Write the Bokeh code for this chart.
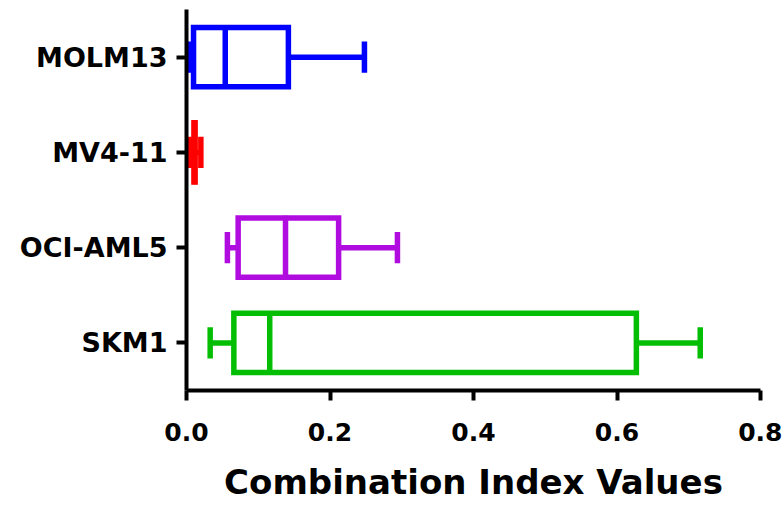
from bokeh.plotting import figure
from bokeh.models import FactorRange, FixedTicker, ColumnDataSource, PrintfTickFormatter
from bokeh.transform import dodge
from bokeh.embed import file_html
from bokeh.resources import INLINE

# ---- data ----
cells = ["MOLM13", "MV4-11", "OCI-AML5", "SKM1"]
mins = [0.0035, 0.004, 0.057, 0.033]
q1 = [0.0098, 0.0105, 0.072, 0.066]
medians = [0.054, 0.011, 0.138, 0.116]
q3 = [0.142, 0.012, 0.212, 0.627]
maxs = [0.248, 0.020, 0.294, 0.716]
colors = ["#0000FF", "#FF0000", "#B00CE0", "#04BE04"]
x_ticks = [0.0, 0.2, 0.4, 0.6, 0.8]
x_title = "Combination Index Values"

src = ColumnDataSource(dict(cell=cells, mn=mins, q1=q1, med=medians, q3=q3, mx=maxs, color=colors))

FONT = "DejaVu Sans"

p = figure(width=782, height=504, output_backend="svg", toolbar_location=None,
           y_range=FactorRange(factors=list(reversed(cells))), x_range=(0, 0.8),
           min_border_left=186, min_border_right=22, min_border_top=9, min_border_bottom=112)
p.outline_line_color = None
p.grid.visible = False
p.background_fill_color = "white"
p.border_fill_color = "white"

BOX_H = 0.62
CAP_H = 0.33
LW = 5.5

# whiskers
p.segment(x0="mn", x1="q1", y0="cell", y1="cell", source=src, line_color="color", line_width=LW)
p.segment(x0="q3", x1="mx", y0="cell", y1="cell", source=src, line_color="color", line_width=LW)
# caps
p.segment(x0="mn", x1="mn", y0=dodge("cell", -CAP_H / 2, range=p.y_range),
          y1=dodge("cell", CAP_H / 2, range=p.y_range), source=src, line_color="color", line_width=LW)
p.segment(x0="mx", x1="mx", y0=dodge("cell", -CAP_H / 2, range=p.y_range),
          y1=dodge("cell", CAP_H / 2, range=p.y_range), source=src, line_color="color", line_width=LW)
# boxes
p.hbar(y="cell", left="q1", right="q3", height=BOX_H, source=src, fill_color="white",
       line_color="color", line_width=LW, line_join="miter")
# medians
p.segment(x0="med", x1="med", y0=dodge("cell", -BOX_H / 2 - 0.025, range=p.y_range),
          y1=dodge("cell", BOX_H / 2 + 0.025, range=p.y_range), source=src, line_color="color", line_width=LW)

# axes
for ax in (p.xaxis[0], p.yaxis[0]):
    ax.axis_line_width = 4
    ax.axis_line_color = "black"
    ax.major_tick_line_width = 4
    ax.major_tick_line_color = "black"
    ax.major_tick_in = 0
    ax.major_tick_out = 10
    ax.minor_tick_line_color = None
    ax.major_label_text_font = FONT
    ax.major_label_text_font_style = "bold"
    ax.major_label_text_color = "black"

p.xaxis.ticker = FixedTicker(ticks=x_ticks)
p.xaxis.formatter = PrintfTickFormatter(format="%.1f")
p.xaxis.major_label_text_font_size = "25px"
p.xaxis.major_label_standoff = 22
p.xaxis.axis_label = x_title
p.xaxis.axis_label_text_font = FONT
p.xaxis.axis_label_text_font_style = "bold"
p.xaxis.axis_label_text_font_size = "34px"
p.xaxis.axis_label_text_color = "black"
p.xaxis.axis_label_standoff = 18

p.yaxis.major_label_text_font_size = "27px"
p.yaxis.major_label_standoff = 9

open("out.html", "w").write(file_html(p, INLINE))
